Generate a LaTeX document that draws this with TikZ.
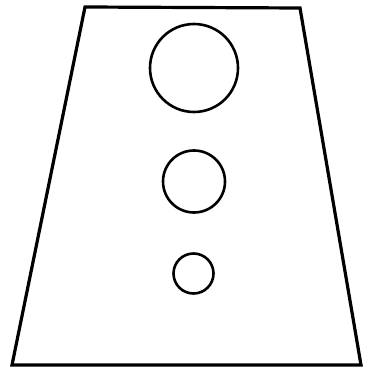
\documentclass[tikz,border=0pt]{standalone}
\begin{document}
\begin{tikzpicture}[x=1pt,y=-1pt,
  outline/.style={draw=black,line width=3.2pt,line join=miter},
  hole/.style={circle,draw=black,line width=2.6pt,inner sep=0pt}]
\useasboundingbox (0,0) rectangle (365,371);
\coordinate (tl) at (85,7);
\coordinate (tr) at (300,8);
\coordinate (br) at (361,365);
\coordinate (bl) at (12,365);
\draw[outline] (tl) -- (tr) -- (br) -- (bl) -- cycle;
\node[hole,minimum size=88pt] (big) at (194,68) {};
\node[hole,minimum size=62pt] (mid) at (194,181.5) {};
\node[hole,minimum size=40pt] (small) at (193.5,273.5) {};
\end{tikzpicture}
\end{document}
